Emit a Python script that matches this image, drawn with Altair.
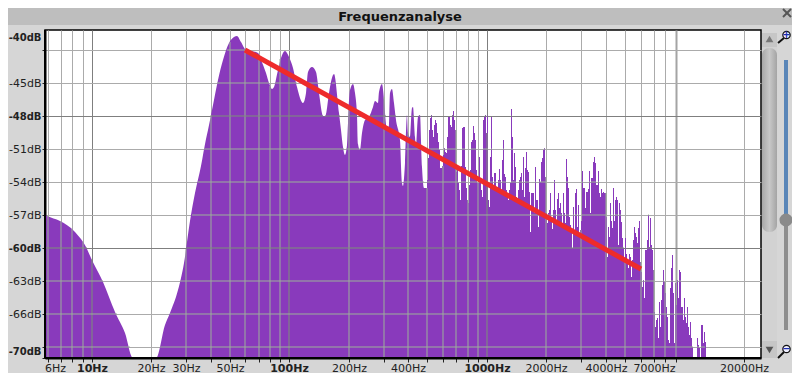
import numpy as np
import pandas as pd
import altair as alt

# Smooth low-frequency part of the spectrum (Hz, dB)
lobe_hz = [5.81, 5.96, 6.94, 8.27, 9.51, 9.96, 11.46, 13.19, 14.81, 16.25, 21.27, 23.6, 25.0, 27.2, 29.2, 31.6, 33.5,
           35.6, 37.7, 38.6, 40.9, 43.4, 46.0, 49.3, 52.3, 54.1, 56.7, 60.1, 63.7, 69.2, 71.6, 75.9, 78.6, 81.4, 83.4,
           87.3, 90.4, 94.8, 99.3, 104, 110, 117, 121, 125, 131, 136, 141, 148, 151, 153, 158, 168, 178, 182, 186, 191,
           196, 198, 202, 210, 215, 220, 222, 228, 233, 241, 253, 265, 271, 281, 284, 294, 301, 304, 312, 319, 323,
           330, 338, 346, 363, 371, 376, 385, 394, 398, 408, 417, 422, 432, 437, 447, 458, 469, 480, 489]
lobe_db = [-57.0, -57.1, -57.5, -58.5, -60.1, -60.9, -63.1, -65.8, -67.7, -70.0, -70.0, -67.0, -65.9, -63.8, -61.4,
           -57.5, -55.0, -52.5, -50.1, -49.3, -47.0, -44.7, -42.9, -41.4, -40.8, -40.7, -41.3, -42.0, -42.1, -42.3,
           -42.9, -44.1, -45.0, -45.5, -45.4, -43.8, -42.7, -42.1, -42.6, -43.6, -45.4, -46.8, -45.9, -44.0, -43.5,
           -44.0, -45.9, -48.0,
           -48.1, -47.8, -45.9, -44.2, -47.7, -49.3, -50.8, -51.5, -50.6, -48.6, -45.6, -45.1, -45.9, -47.9, -50.5,
           -51.1, -49.5, -48.4, -48.1, -47.2, -46.6, -46.8, -45.8, -45.1, -46.5, -47.7, -49.3, -48.8, -45.9, -45.5,
           -46.8, -48.4, -50.2, -54.1, -54.4, -52.3, -47.9, -49.5, -49.9, -47.3, -47.2, -49.9, -50.8, -48.1, -47.9,
           -52.6, -54.5, -54.5]

# Spiky upper part: one dB reading per display column, starting at comb_start_hz
comb_start_hz = 488.5
comb_db = [-54.5, -54.5, -53.8, -51.8, -49.3, -48.2, -47.9, -49.3, -49.9, -48.8, -48.4, -48.6, -49.5, -50.4, -51.1,
           -52.7, -52.7, -52.5, -51.5, -50.9, -51.3, -51.4, -49.9, -48.1, -48.1, -48.8, -49.0, -47.9, -47.5, -48.4,
           -49.3, -53.1, -52.9, -54.1, -54.7, -55.6, -52.5, -49.1, -49.0, -49.0, -52.6, -54.5, -55.6, -55.9, -54.3,
           -52.9, -50.4, -50.2, -48.9, -49.5, -50.2, -52.9, -54.1, -54.1, -51.7, -54.1, -54.7, -55.4, -48.4, -48.1,
           -47.9, -49.5, -47.9, -55.6, -56.3, -51.7, -48.1, -53.5, -54.7, -53.2, -53.2, -54.7, -54.7, -53.8, -52.8,
           -53.8, -54.7, -52.0, -50.2, -53.3, -53.5, -54.7, -55.4, -55.6, -54.7, -54.1, -47.4, -49.9, -53.8, -51.4,
           -52.6, -55.4, -55.9, -54.7, -53.8, -53.5, -53.2, -54.7, -51.7, -55.4, -52.7, -51.3, -52.9, -53.1, -54.9,
           -58.5, -55.0, -55.0, -55.0, -56.8, -52.6, -55.6, -55.6, -58.1, -53.7, -54.0, -52.2, -51.8, -51.1, -50.9,
           -53.5, -56.8, -57.7, -56.8, -56.5, -55.0, -57.2, -58.3, -56.5, -53.8, -56.5, -57.7, -55.5, -55.0, -56.4,
           -55.9, -56.8, -58.1, -55.0, -56.8, -57.7, -51.9, -53.5, -54.5, -57.2, -57.9, -58.4, -60.0, -56.3, -58.4,
           -55.0, -54.6, -58.1, -56.1, -59.0, -58.4, -57.5, -53.0, -54.5, -54.5, -56.4, -54.9, -54.9, -54.6, -53.0,
           -56.8, -53.6, -53.6, -52.2, -51.7, -52.3, -54.3, -54.3, -53.0, -55.0, -55.4, -54.6, -55.0, -54.9, -55.0,
           -55.0, -57.2, -60.8, -58.1, -59.0, -55.9, -57.5, -58.2, -54.5, -57.5, -55.6, -55.4, -55.6, -59.7, -55.9,
           -56.5, -57.6, -59.1, -60.0, -61.1, -59.1, -60.5, -61.4, -61.8, -60.5, -60.8, -62.6, -61.1, -59.3, -58.1,
           -58.6, -59.0, -59.5, -58.2, -57.5, -61.3, -62.2, -63.5, -62.9, -64.5, -60.2, -60.2, -59.3, -57.0, -59.9,
           -57.3, -59.7, -60.2, -62.0, -65.8, -67.2, -66.5, -66.4, -68.2, -64.9, -67.2, -64.7, -63.4, -62.0, -63.1,
           -64.1, -65.4, -66.3, -68.4, -68.6, -63.6, -61.8, -60.6, -64.1, -68.6, -63.2, -65.2, -62.9, -64.5, -62.0,
           -62.2, -65.4, -65.4, -66.5, -64.5, -66.3, -66.8, -65.4, -67.2, -67.9, -66.7, -68.2, -69.0, -70.0, -70.0,
           -70.0, -70.0, -68.2, -68.8, -69.1, -70.0, -67.0, -67.0, -68.6, -67.6, -68.5, -70.0]

# Red trend line (Hz, dB)
trend_hz = [60, 6051]
trend_db = [-42.0, -61.9]

# Axes
x_ticks = [6, 7, 8, 9, 10, 20, 30, 40, 50, 60, 70, 80, 90, 100, 200, 300, 400, 500, 600, 700, 800, 900,
           1000, 2000, 3000, 4000, 5000, 6000, 7000, 8000, 9000, 20000]
x_labelled = [6, 10, 20, 30, 50, 100, 200, 400, 1000, 2000, 4000, 7000, 20000]
x_major = [10, 100, 1000]
y_ticks = [-42, -45, -48, -51, -54, -57, -60, -63, -66, -69, -70]
y_major = [-48, -60]
X_DOMAIN = [5.81, 24360]
Y_DOMAIN = [-70.0, -40.1818]
FLOOR = -70.0

PURPLE = "#893abc"
GRID = "#ababab"
GRID_DARK = "#7f7f7f"
GRID_THICK = "#a4a4a4"
GRID_ON = "#9cb09a"
GRID_DARK_ON = "#7c9078"
FONT = "DejaVu Sans"

comb_hz = [comb_start_hz * 10 ** (i / 197.6) for i in range(len(comb_db))]
lobe = pd.DataFrame({"hz": lobe_hz, "db": lobe_db, "floor": FLOOR})
comb = pd.DataFrame({"hz": comb_hz, "db": comb_db, "floor": FLOOR})
trend = pd.DataFrame({"hz": trend_hz, "db": trend_db})


def level_at(hz):
    hz = np.asarray(hz, dtype=float)
    low = np.interp(np.log10(hz), np.log10(lobe_hz), lobe_db)
    idx = np.clip(np.searchsorted(comb_hz, hz, side="right") - 1, 0, len(comb_db) - 1)
    out = np.where(hz < comb_hz[0], low, np.asarray(comb_db)[idx])
    return np.where(hz > comb_hz[-1], -71, out)


# grid lines over the purple turn green-grey: follow the spectrum's own outline
v_rows = []
for f in x_ticks:
    lev = float(level_at(f))
    if lev > FLOOR:
        v_rows.append({"hz": f, "db": lev, "floor": FLOOR, "major": f in x_major})
fine = np.array(sorted(list(10 ** np.arange(np.log10(lobe_hz[0]), np.log10(comb_hz[0]), 1 / 197.6)) + comb_hz))
fine_lev = level_at(fine)
h_rows = []
for lv in y_ticks[:-1]:
    start = None
    for i in range(len(fine) - 1):
        on = fine_lev[i] >= lv
        if on and start is None:
            start = fine[i]
        if start is not None and (not on or i == len(fine) - 2):
            h_rows.append({"a": start, "b": fine[i], "db": lv, "major": lv in y_major})
            start = None
v_df = pd.DataFrame(v_rows)
h_df = pd.DataFrame(h_rows)

xs = alt.Scale(type="log", domain=X_DOMAIN, nice=False, round=True)
ys = alt.Scale(domain=Y_DOMAIN, nice=False, zero=False, round=True)

x_test = "indexof(%s,datum.value)>=0"
x_axis = alt.Axis(
    values=x_ticks, title=None, grid=True, domain=True, domainColor="black", domainWidth=2,
    tickColor="#222", tickSize=4, labelFont=FONT, labelFontSize=11, labelColor="#222",
    labelOverlap=False, labelFlush=False, labelBound=False, labelPadding=0,
    labelExpr="indexof(%s,datum.value)>=0?datum.value+'Hz':''" % x_labelled,
    labelFontWeight={"condition": {"test": x_test % x_major, "value": "bold"}, "value": "normal"},
    labelOffset={"condition": {"test": "datum.value==6", "value": 7}, "value": 0},
    gridColor={"condition": [{"test": "datum.value==9000", "value": GRID_THICK},
                             {"test": x_test % x_major, "value": GRID_DARK}], "value": GRID},
    gridWidth={"condition": {"test": "datum.value==9000", "value": 2}, "value": 1},
)
y_bold = "indexof([-42,-48,-60,-70],datum.value)>=0"
y_axis = alt.Axis(
    values=y_ticks, title=None, grid=True, domain=True, domainColor="black", domainWidth=2,
    tickColor="#222", tickSize=3, labelFont=FONT, labelColor="#222",
    labelFontSize={"condition": {"test": y_bold, "value": 10}, "value": 11},
    labelOverlap=False, labelFlush=False, labelBound=False, labelPadding=1,
    labelExpr="datum.value==-42?'-40dB':(datum.value==-69?'':datum.value+'dB')",
    labelFontWeight={"condition": {"test": y_bold, "value": "bold"}, "value": "normal"},
    labelOffset={"condition": [{"test": "datum.value==-42", "value": -13},
                               {"test": "datum.value==-70", "value": -7}], "value": 0},
    gridColor={"condition": {"test": "indexof(%s,datum.value)>=0" % y_major, "value": GRID_DARK}, "value": GRID},
)

one = alt.Chart(pd.DataFrame({"a": [0]}))


def px(x):
    return alt.value(x - 45)


def py(y):
    return alt.value(y - 30)


def box(x0, x1, y0, y1, **kw):
    return one.mark_rect(**kw).encode(x=px(x0), x2=px(x1), y=py(y0), y2=py(y1))


def stroke(x0, y0, x1, y1, color, w):
    return one.mark_rule(color=color, strokeWidth=w).encode(x=px(x0), x2=px(x1), y=py(y0), y2=py(y1))


thumb_fill = alt.LinearGradient(gradient="linear",
                                stops=[alt.GradientStop(color="#a8a8a8", offset=0),
                                       alt.GradientStop(color="#c8c8c8", offset=0.5),
                                       alt.GradientStop(color="#a4a4a4", offset=1)],
                                x1=0, x2=1, y1=0, y2=0)

deco = [
    box(8, 792, 8, 25, color="#bebebe"),
    box(762, 777, 33, 358, color="#d2d2d2"),
    box(762, 777, 48, 232, cornerRadius=7, color=thumb_fill),
    box(762, 777, 33, 47, color="#c6c6c6"),
    box(762, 777, 341, 358, color="#c6c6c6"),
    one.mark_point(shape="triangle-up", filled=True, color="#777", size=60, opacity=1).encode(x=px(769.5), y=py(39)),
    one.mark_point(shape="triangle-down", filled=True, color="#555", size=60, opacity=1).encode(x=px(769.5), y=py(350)),
    box(784, 788, 60, 215, color="#5a86b8"),
    box(784, 788, 226, 330, color="#8e8e8e"),
    one.mark_point(shape="circle", filled=True, color="#8a8a8a", size=170, opacity=1).encode(x=px(786), y=py(220)),
    stroke(778, 43, 784, 38, "#111", 2),
    one.mark_point(shape="circle", filled=True, fill="#eef", stroke="#111", strokeWidth=1.2, size=55, opacity=1)
       .encode(x=px(786.5), y=py(35)),
    one.mark_text(text="+", color="#1c2fb0", font=FONT, fontWeight="bold", fontSize=10)
       .encode(x=px(786.5), y=py(35)),
    stroke(778, 358, 784, 352, "#111", 2),
    one.mark_point(shape="circle", filled=True, fill="#eef", stroke="#111", strokeWidth=1.2, size=55, opacity=1)
       .encode(x=px(786.5), y=py(349)),
    one.mark_text(text="−", color="#1c2fb0", font=FONT, fontWeight="bold", fontSize=10)
       .encode(x=px(786.5), y=py(349)),
    stroke(783, 9, 791, 17, "#555", 2),
    stroke(791, 9, 783, 17, "#555", 2),
    one.mark_text(text="Frequenzanalyse", color="#111", font=FONT, fontWeight="bold", fontSize=13)
       .encode(x=px(400), y=py(16.5)),
]

base_axes = alt.Chart(lobe).mark_area(color=PURPLE, interpolate="monotone", clip=True).encode(
    x=alt.X("hz:Q", scale=xs, axis=x_axis),
    y=alt.Y("db:Q", scale=ys, axis=y_axis),
    y2="floor:Q",
)
comb_area = alt.Chart(comb).mark_area(color=PURPLE, interpolate="step-after", clip=True).encode(
    x=alt.X("hz:Q", scale=xs, axis=x_axis),
    y=alt.Y("db:Q", scale=ys, axis=y_axis),
    y2="floor:Q",
)
v_over = alt.Chart(v_df).mark_rule(strokeWidth=1, clip=True).encode(
    x=alt.X("hz:Q", scale=xs, axis=x_axis),
    y=alt.Y("db:Q", scale=ys, axis=y_axis),
    y2="floor:Q",
    color=alt.condition("datum.major", alt.value(GRID_DARK_ON), alt.value(GRID_ON)),
)
h_over = alt.Chart(h_df).mark_rule(strokeWidth=1, clip=True).encode(
    x=alt.X("a:Q", scale=xs, axis=x_axis),
    x2="b:Q",
    y=alt.Y("db:Q", scale=ys, axis=y_axis),
    color=alt.condition("datum.major", alt.value(GRID_DARK_ON), alt.value(GRID_ON)),
)
trend_line = alt.Chart(trend).mark_line(color="#ee2b2b", strokeWidth=5, clip=True).encode(
    x=alt.X("hz:Q", scale=xs, axis=x_axis),
    y=alt.Y("db:Q", scale=ys, axis=y_axis),
)
frame = [
    one.mark_rule(color="black", strokeWidth=2).encode(x=alt.value(0), y=alt.value(0), y2=alt.value(328)),
    one.mark_rule(color="black", strokeWidth=2).encode(x=alt.value(0), x2=alt.value(716), y=alt.value(328)),
]

chart = alt.layer(*deco, base_axes, comb_area, v_over, h_over, trend_line, *frame).properties(
    width=716, height=328,
    background="#d6d6d6",
    autosize=alt.AutoSizeParams(type="none"),
    padding={"left": 37, "top": 22, "right": 31, "bottom": 15},
).configure_view(stroke="black", strokeWidth=1.5, fill="white")

chart.save("out.html", embed_options={"renderer": "svg", "actions": False})
